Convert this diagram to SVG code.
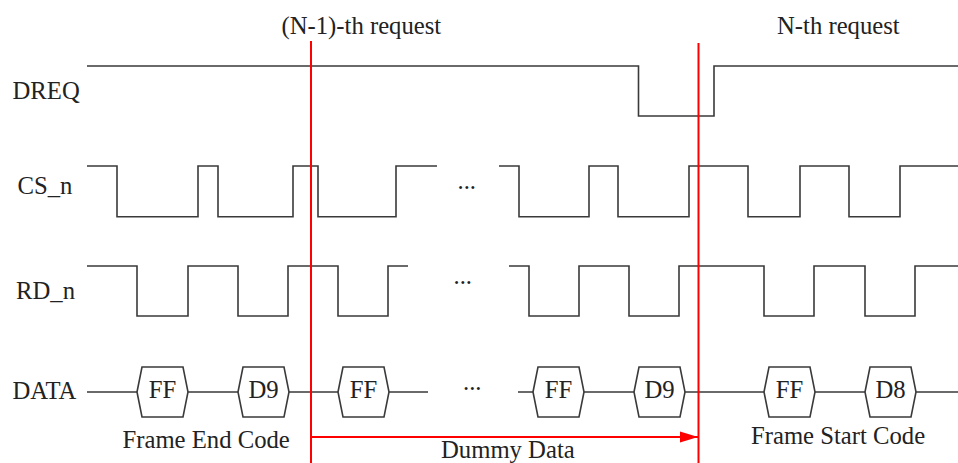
<svg xmlns="http://www.w3.org/2000/svg" width="958" height="463" viewBox="0 0 958 463">
  <defs>
    <style>
      .lbl { font-family: "Liberation Serif", "Times New Roman", serif; font-size: 24.7px; fill: #222; }
      .mid { text-anchor: middle; }
      .wave { fill: none; stroke: #3a3a3a; stroke-width: 1.6; }
      .mark { fill: none; stroke: #ff0000; stroke-width: 2; }
    </style>
    <!-- one data word on the bus: a flat hexagon 51 px wide, centred on the bus line -->
    <polygon id="word" points="0,0 5,-25 46,-25 51,0 46,25 5,25" fill="#fff" stroke="#3a3a3a" stroke-width="1.6"/>
    <marker id="arrow" markerUnits="userSpaceOnUse" markerWidth="18" markerHeight="12" refX="18" refY="6" orient="auto">
      <path d="M0,0.5 L18,6 L0,11.5 z" fill="#ff0000"/>
    </marker>
  </defs>

  <rect width="958" height="463" fill="#fff"/>

  <!-- request headings -->
  <g id="heading-prev">
    <text class="lbl" x="281.5" y="33.5">(N-1)-th request</text>
  </g>
  <g id="heading-next">
    <text class="lbl" x="777" y="33.5">N-th request</text>
  </g>

  <!-- DREQ -->
  <g id="dreq">
    <text class="lbl" x="12.5" y="98.5">DREQ</text>
    <path class="wave" d="M87,66 H638.5 V116 H714 V66 H958"/>
  </g>

  <!-- CS_n -->
  <g id="cs-n">
    <text class="lbl" x="17.5" y="193.5">CS_n</text>
    <path class="wave" d="M87,166 H117 V216.7 H198 V166 H218 V216.7 H293 V166 H318 V216.7 H396 V166 H437"/>
    <text class="lbl" x="457.5" y="188.5">...</text>
    <path class="wave" d="M499,166 H519 V216.7 H589 V166 H618 V216.7 H689 V166 H748 V216.7 H800 V166 H849 V216.7 H900 V166 H958"/>
  </g>

  <!-- RD_n -->
  <g id="rd-n">
    <text class="lbl" x="16" y="298.5">RD_n</text>
    <path class="wave" d="M87,266 H137 V316 H188 V266 H238 V316 H288 V266 H338 V316 H388 V266 H408"/>
    <text class="lbl" x="453.5" y="284">...</text>
    <path class="wave" d="M509,266 H529 V316 H579 V266 H629 V316 H679 V266 H764 V316 H814 V266 H865 V316 H915 V266 H958"/>
  </g>

  <!-- DATA bus -->
  <g id="data">
    <text class="lbl" x="12.5" y="398.5">DATA</text>
    <path class="wave" d="M87,392 H137 M188,392 H238 M289,392 H338 M389,392 H428"/>
    <text class="lbl" x="463" y="389.5">...</text>
    <path class="wave" d="M518,392 H533 M584,392 H634 M685,392 H764 M815,392 H865 M916,392 H958"/>
  </g>

  <g id="word-1"><use href="#word" x="137" y="392"/><text class="lbl mid" x="162.5" y="397.5">FF</text></g>
  <g id="word-2"><use href="#word" x="238" y="392"/><text class="lbl mid" x="263.5" y="397.5">D9</text></g>
  <g id="word-3"><use href="#word" x="338" y="392"/><text class="lbl mid" x="363.5" y="397.5">FF</text></g>
  <g id="word-4"><use href="#word" x="533" y="392"/><text class="lbl mid" x="558.5" y="397.5">FF</text></g>
  <g id="word-5"><use href="#word" x="634" y="392"/><text class="lbl mid" x="659.5" y="397.5">D9</text></g>
  <g id="word-6"><use href="#word" x="764" y="392"/><text class="lbl mid" x="789.5" y="397.5">FF</text></g>
  <g id="word-7"><use href="#word" x="865" y="392"/><text class="lbl mid" x="890.5" y="397.5">D8</text></g>

  <!-- captions under the bus -->
  <g id="caption-end">
    <text class="lbl" x="122.5" y="447.5">Frame End Code</text>
  </g>
  <g id="caption-dummy">
    <text class="lbl" x="441" y="457.5">Dummy Data</text>
  </g>
  <g id="caption-start">
    <text class="lbl" x="751" y="443.5">Frame Start Code</text>
  </g>

  <!-- request boundaries and the dummy-data span -->
  <g id="connectors">
    <line class="mark" x1="311" y1="41" x2="311" y2="463"/>
    <line class="mark" x1="698.5" y1="43" x2="698.5" y2="463"/>
    <line class="mark" x1="311" y1="437" x2="698" y2="437" marker-end="url(#arrow)"/>
  </g>
</svg>
